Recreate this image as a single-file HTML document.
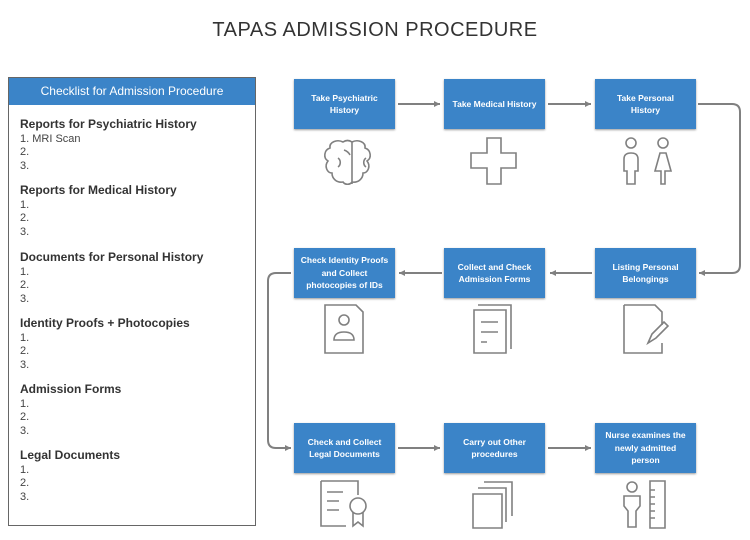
<!DOCTYPE html>
<html><head><style>
body{margin:0;width:750px;height:540px;background:#fff;font-family:"Liberation Sans",sans-serif;position:relative;overflow:hidden}
.t{position:absolute;top:19px;left:0;width:750px;text-align:center;font-size:20px;color:#333;letter-spacing:0.5px}
.panel{position:absolute;left:8px;top:77px;width:246px;height:447px;border:1px solid #666}
.ph{background:#3b84c8;color:#fff;height:27px;line-height:27px;text-align:center;font-size:12px}
.sec{position:absolute;left:11px;font-size:11px;color:#444;line-height:13.5px}
.sec b{font-size:12px;color:#333}
.b{position:absolute;width:101px;height:50px;background:#3b84c8;color:#fff;font-size:8.5px;font-weight:bold;display:flex;align-items:center;justify-content:center;text-align:center;line-height:12.5px;box-shadow:0 1px 2px #999}
</style></head><body>
<div class="t">TAPAS ADMISSION PROCEDURE</div>
<div class="panel"><div class="ph">Checklist for Admission Procedure</div>
<div class="sec" style="top:40px"><b>Reports for Psychiatric History</b><br>1. MRI Scan<br>2.<br>3.</div>
<div class="sec" style="top:106px"><b>Reports for Medical History</b><br>1.<br>2.<br>3.</div>
<div class="sec" style="top:173px"><b>Documents for Personal History</b><br>1.<br>2.<br>3.</div>
<div class="sec" style="top:239px"><b>Identity Proofs + Photocopies</b><br>1.<br>2.<br>3.</div>
<div class="sec" style="top:305px"><b>Admission Forms</b><br>1.<br>2.<br>3.</div>
<div class="sec" style="top:371px"><b>Legal Documents</b><br>1.<br>2.<br>3.</div>
</div>
<div class="b" style="left:294px;top:79px">Take Psychiatric<br>History</div>
<div class="b" style="left:444px;top:79px">Take Medical History</div>
<div class="b" style="left:595px;top:79px">Take Personal<br>History</div>
<div class="b" style="left:294px;top:248px">Check Identity Proofs<br>and Collect<br>photocopies of IDs</div>
<div class="b" style="left:444px;top:248px">Collect and Check<br>Admission Forms</div>
<div class="b" style="left:595px;top:248px">Listing Personal<br>Belongings</div>
<div class="b" style="left:294px;top:423px">Check and Collect<br>Legal Documents</div>
<div class="b" style="left:444px;top:423px">Carry out Other<br>procedures</div>
<div class="b" style="left:595px;top:423px">Nurse examines the<br>newly admitted<br>person</div>
<svg width="750" height="540" style="position:absolute;left:0;top:0" fill="none" stroke="#808080" stroke-width="2">
<defs><marker id="a" markerUnits="userSpaceOnUse" markerWidth="7" markerHeight="7" refX="6" refY="3.5" orient="auto"><path d="M0,0.5L6,3.5L0,6.5z" fill="#808080" stroke="none"/></marker></defs>
<g marker-end="url(#a)">
<path d="M398,104H440"/><path d="M548,104H591"/>
<path d="M698,104H732Q740,104 740,112V265Q740,273 732,273H699"/>
<path d="M592,273H550"/><path d="M442,273H399"/>
<path d="M291,273H276Q268,273 268,281V440Q268,448 276,448H291"/>
<path d="M398,448H440"/><path d="M548,448H591"/>
</g>
<g stroke-width="1.6">
<path d="M343,142c-6,-3 -14,0 -13,6c-6,2 -7,10 -2,13c-4,5 -1,12 4,12c0,6 5,10 11,9c2,3 7,3 9,0c6,1 11,-3 11,-9c5,0 8,-7 4,-12c5,-3 4,-11 -2,-13c1,-6 -7,-9 -13,-6c-3,-2 -6,-2 -9,0zM352,142v42M338,158c3,2 3,7 0,9M366,158c-3,2 -3,7 0,9M344,150c3,1 5,3 6,5"/>
<path d="M487,138h14v15h15v15h-15v16h-14v-16h-16v-15h16z"/>
<circle cx="631" cy="143" r="5"/><path d="M624,171v-12q0,-6 7,-6q7,0 7,6v12h-3v13h-8v-13z"/>
<circle cx="663" cy="143" r="5"/><path d="M655,171l5,-18h6l5,18h-6v13h-4v-13z"/>
<path d="M325,305h31l7,7v41h-38z"/><circle cx="344" cy="320" r="5"/><path d="M334,340q0,-8 10,-8q10,0 10,8z"/>
<path d="M474,310h32v43h-32z M478,305h33v44"/><path d="M481,322h17M481,332h17M481,342h6"/>
<path d="M624,305h31l7,7v13M624,305v48h38v-10"/><path d="M648,343l4,-9l12,-12l4,4l-12,12z"/>
<path d="M321,481h37v14M321,481v45h25"/><path d="M327,492h16M327,501h12M327,510h12"/><circle cx="358" cy="506" r="8"/><path d="M353,512v14l5,-4l5,4v-14"/>
<path d="M473,494h29v34h-29z M478,488h28v34 M484,482h28v34"/>
<circle cx="632" cy="487" r="5"/><path d="M624,496h16v10l-4,5v16h-8v-16l-4,-5z"/><path d="M650,481h15v47h-15zM650,490h5M650,497h5M650,504h5M650,511h5M650,518h5"/>
</g>
</svg>
</body></html>
